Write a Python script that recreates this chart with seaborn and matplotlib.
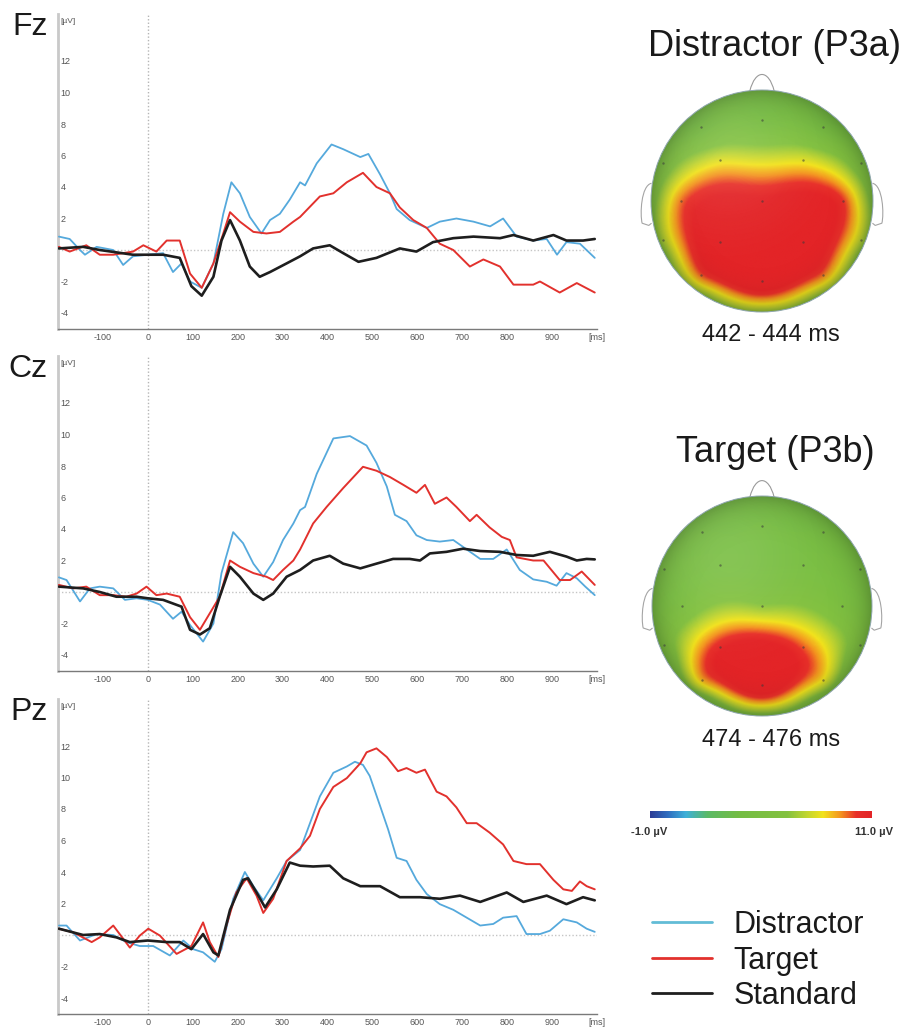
import numpy as np
import pandas as pd
import matplotlib
matplotlib.use("Agg")
import matplotlib.pyplot as plt
import seaborn as sns
from matplotlib.colors import LinearSegmentedColormap
from matplotlib.lines import Line2D
from matplotlib.patches import Circle, PathPatch
from matplotlib.path import Path

# ---------------- data ----------------
CONDITIONS = ["Distractor", "Target", "Standard"]
COND_COLORS = ["#55a9dc", "#e2312d", "#1e1e1e"]

FZ_DIS_T = [-198,-174,-151,-140,-114,-77,-55,-33,0,34,56,75,94,120,146,168,186,205,227,253,272,294,316,339,350,376,409,435,473,491,517,539,554,583,621,650,687,725,762,791,821,858,888,911,932,962,995]
FZ_DIS_V = [0.85,0.7,0,-0.3,0.2,0,-0.95,-0.4,-0.3,-0.2,-1.4,-0.85,-2.0,-2.4,-0.85,2.3,4.3,3.6,2.1,1.05,1.9,2.3,3.2,4.3,4.1,5.5,6.7,6.4,5.9,6.1,4.8,3.6,2.6,1.9,1.4,1.8,2.0,1.8,1.5,2.0,0.85,0.6,0.7,-0.3,0.5,0.4,-0.5]
FZ_TAR_T = [-198,-174,-137,-107,-77,-33,-10,19,42,71,94,120,146,168,183,205,235,264,294,324,339,383,413,443,479,509,539,561,591,621,650,680,717,747,784,814,858,873,917,955,995]
FZ_TAR_V = [0.2,-0.1,0.3,-0.3,-0.3,-0.1,0.3,-0.1,0.6,0.6,-1.5,-2.4,-0.85,1.05,2.4,1.8,1.15,1.05,1.15,1.8,2.1,3.4,3.6,4.3,4.9,4.0,3.6,2.7,1.9,1.4,0.4,0,-1.05,-0.6,-1.05,-2.2,-2.2,-2.0,-2.7,-2.1,-2.7]
FZ_STD_T = [-198,-144,-107,-33,0,34,71,97,120,146,164,183,205,227,249,272,309,339,368,405,435,469,509,561,598,635,680,725,784,814,858,903,932,969,995]
FZ_STD_V = [0.1,0.2,0,-0.3,-0.3,-0.3,-0.5,-2.3,-2.9,-1.7,0.6,1.9,0.6,-1.05,-1.7,-1.4,-0.85,-0.4,0.1,0.3,-0.2,-0.75,-0.5,0.1,-0.1,0.5,0.75,0.85,0.75,0.95,0.6,0.95,0.6,0.6,0.7]

CZ_DIS_T = [-198,-181,-151,-129,-107,-77,-51,-25,0,27,56,75,94,123,146,164,190,212,235,257,279,301,324,339,350,376,413,450,487,509,532,550,576,598,621,650,680,710,740,769,799,828,858,888,910,932,955,974,995]
CZ_DIS_V = [0.93,0.76,-0.6,0.23,0.34,0.23,-0.5,-0.4,-0.5,-0.8,-1.7,-1.25,-2.1,-3.15,-2.0,1.2,3.8,3.1,1.8,0.97,1.9,3.3,4.35,5.2,5.4,7.5,9.75,9.9,9.3,8.2,6.7,4.9,4.5,3.6,3.3,3.2,3.3,2.7,2.1,2.1,2.7,1.4,0.8,0.65,0.4,1.2,0.87,0.34,-0.2]
CZ_TAR_T = [-198,-166,-137,-107,-77,-48,-25,-3,19,42,71,94,116,138,160,183,205,235,264,279,301,324,339,368,398,435,479,509,539,569,598,617,639,665,687,717,732,761,788,806,821,858,881,917,940,966,995]
CZ_TAR_V = [0.45,0.23,0.34,-0.2,-0.2,-0.3,-0.1,0.34,-0.2,-0.1,-0.3,-1.6,-2.4,-1.35,-0.3,2.0,1.6,1.2,0.97,0.76,1.4,2.0,2.7,4.35,5.4,6.6,7.95,7.7,7.3,6.8,6.3,6.8,5.6,6.0,5.4,4.5,4.9,4.1,3.5,3.3,2.2,2.0,2.0,0.76,0.76,1.3,0.45]
CZ_STD_T = [-198,-144,-107,-70,-25,0,34,75,94,116,138,160,183,205,235,257,279,309,339,368,405,435,473,509,546,583,606,628,665,702,740,784,821,858,895,932,955,977,995]
CZ_STD_V = [0.34,0.23,0,-0.3,-0.3,-0.4,-0.5,-0.93,-2.4,-2.7,-2.3,-0.3,1.6,0.97,-0.1,-0.5,-0.1,0.97,1.4,2.0,2.3,1.8,1.5,1.8,2.1,2.1,2.0,2.45,2.55,2.75,2.6,2.55,2.35,2.3,2.55,2.25,2.0,2.1,2.07]

PZ_DIS_T = [-198,-181,-151,-114,-77,-48,-18,12,49,79,101,123,149,164,190,216,235,257,287,309,339,361,383,413,443,461,479,494,517,535,554,576,598,621,650,680,710,740,769,791,821,843,873,895,925,955,977,995]
PZ_DIS_V = [0.6,0.6,-0.35,0.06,0,-0.45,-0.7,-0.7,-1.3,-0.35,-0.9,-1.1,-1.7,-0.9,2.3,4.0,3.1,2.2,3.6,4.7,5.4,7.1,8.8,10.3,10.7,11.0,10.8,10.1,8.2,6.7,4.9,4.7,3.5,2.6,1.96,1.6,1.1,0.6,0.7,1.1,1.2,0.06,0.06,0.27,1.0,0.8,0.4,0.2]
PZ_TAR_T = [-198,-166,-125,-107,-77,-40,-18,1,27,64,97,123,138,157,175,197,220,242,257,279,309,339,361,383,413,443,473,487,509,532,557,576,598,617,643,665,687,710,732,761,791,814,843,873,903,925,944,962,977,995]
PZ_TAR_V = [0.4,0.17,-0.45,-0.15,0.6,-0.8,-0.04,0.4,-0.04,-1.2,-0.7,0.8,-0.45,-1.4,0.6,2.7,3.6,2.5,1.4,2.3,4.7,5.5,6.3,8.0,9.4,9.96,10.9,11.6,11.85,11.3,10.4,10.6,10.3,10.5,9.1,8.8,8.1,7.1,7.1,6.5,5.75,4.7,4.5,4.5,3.5,2.9,2.8,3.4,3.1,2.9]
PZ_STD_T = [-198,-144,-107,-70,-40,0,42,71,97,123,146,157,183,212,223,242,261,287,316,339,368,405,435,473,517,561,606,650,695,740,799,836,888,932,969,995]
PZ_STD_V = [0.4,0,0.06,-0.15,-0.45,-0.35,-0.45,-0.45,-0.9,0.06,-1.1,-1.3,1.6,3.5,3.6,2.7,1.75,2.9,4.6,4.4,4.35,4.4,3.6,3.1,3.1,2.4,2.4,2.3,2.5,2.1,2.7,2.1,2.5,1.96,2.4,2.2]

CHANNELS = ["Fz", "Cz", "Pz"]
XTICKS = [-100, 0, 100, 200, 300, 400, 500, 600, 700, 800, 900, 1000]
XTICK_LABELS = ["-100", "0", "100", "200", "300", "400", "500", "600", "700", "800", "900", "[ms]"]
YTICKS = [-4, -2, 2, 4, 6, 8, 10, 12]
YTICK_LABELS = ["-4", "-2", "2", "4", "6", "8", "10", "12"]

# topographic maps: electrode readings (x, y on unit head) and µV values
ELEC_X = [-0.55, 0.0, 0.55, -0.89, -0.38, 0.37, 0.89, -0.73, 0.0, 0.73, -0.89, -0.38, 0.37, 0.89, -0.55, 0.0, 0.55]
ELEC_Y = [0.67, 0.73, 0.67, 0.34, 0.37, 0.37, 0.34, 0.0, 0.0, 0.0, -0.35, -0.37, -0.37, -0.35, -0.67, -0.72, -0.67]
DIS_ELEC_V = [4.5, 4.6, 4.5, 5.4, 8.0, 8.0, 5.4, 9.6, 11.2, 10.2, 7.2, 12.5, 12.5, 7.4, 9.8, 12.5, 9.6]
TAR_ELEC_V = [4.5, 4.5, 4.5, 4.7, 4.8, 4.8, 4.7, 5.3, 6.6, 5.3, 5.6, 10.6, 9.8, 5.6, 9.0, 12.5, 8.4]
RIM_ANGLES = [90, 60, 30, 0, -30, -60, -90, -120, -150, 180, 150, 120]
DIS_RIM_V = [4.4, 4.4, 4.8, 6.0, 6.4, 6.6, 6.8, 6.6, 6.4, 5.8, 4.8, 4.4]
TAR_RIM_V = [4.4, 4.4, 4.5, 4.8, 5.0, 5.4, 6.0, 5.4, 5.0, 4.8, 4.5, 4.4]
TOPO_TITLES = ["Distractor (P3a)", "Target (P3b)"]
TOPO_TIMES = ["442 - 444 ms", "474 - 476 ms"]
CBAR_MIN, CBAR_MAX = -1.0, 11.0
CBAR_LABELS = ["-1.0 µV", "11.0 µV"]

# ---------------- figure ----------------
sns.set_style("white")
plt.rcParams["font.family"] = ["Liberation Sans", "DejaVu Sans"]

W, H = 911, 1030
fig = plt.figure(figsize=(W / 100, H / 100), dpi=100)


def fx(px):
    return px / W


def fy(py):
    return 1 - py / H


series = {
    "Fz": [(FZ_DIS_T, FZ_DIS_V), (FZ_TAR_T, FZ_TAR_V), (FZ_STD_T, FZ_STD_V)],
    "Cz": [(CZ_DIS_T, CZ_DIS_V), (CZ_TAR_T, CZ_TAR_V), (CZ_STD_T, CZ_STD_V)],
    "Pz": [(PZ_DIS_T, PZ_DIS_V), (PZ_TAR_T, PZ_TAR_V), (PZ_STD_T, PZ_STD_V)],
}
zero_px = [250, 592, 935]
lws = [1.3, 1.4, 1.9]
px_per_uv = 15.75

for ch, y0 in zip(CHANNELS, zero_px):
    ax = fig.add_axes([fx(58), fy(y0 + 5 * px_per_uv), 539 / W, 20 * px_per_uv / H])
    ax.axvline(0, color="#b5b5b5", ls=(0, (1, 1.5)), lw=1.0, zorder=1)
    ax.axhline(0, color="#c5c5c5", ls=(0, (1, 1.5)), lw=1.0, zorder=1)
    for (t, v), cond, col, lw in zip(series[ch], CONDITIONS, COND_COLORS, lws):
        df = pd.DataFrame({"time": t, "uV": v})
        sns.lineplot(data=df, x="time", y="uV", ax=ax, color=col, linewidth=lw,
                     estimator=None, sort=False, legend=False, zorder=3)
    ax.set_xlim(-200, 1000)
    ax.set_ylim(-5, 15)
    ax.set_xlabel("")
    ax.set_ylabel("")
    ax.set_xticks(XTICKS)
    ax.set_xticklabels(XTICK_LABELS)
    ax.set_yticks(YTICKS)
    ax.set_yticklabels(YTICK_LABELS)
    ax.tick_params(axis="x", direction="in", length=2.5, width=0.8, color="#888888",
                   labelsize=6.5, labelcolor="#555555", pad=3)
    ax.tick_params(axis="y", direction="in", length=0, labelsize=6.5,
                   labelcolor="#555555", pad=-2)
    for lbl in ax.get_yticklabels():
        lbl.set_horizontalalignment("left")
    for s in ["top", "right"]:
        ax.spines[s].set_visible(False)
    ax.spines["left"].set_color("#c9c9c9")
    ax.spines["left"].set_linewidth(2.0)
    ax.spines["bottom"].set_color("#7a7a7a")
    ax.spines["bottom"].set_linewidth(1.0)
    ax.set_facecolor("none")
    ax.text(0.004, 14.5, "[µV]", transform=ax.get_yaxis_transform(), fontsize=6,
            color="#555555", ha="left", va="center")
    ax.text(-0.019, 14.15, ch, transform=ax.get_yaxis_transform(), fontsize=23,
            color="#1a1a1a", ha="right", va="center")

# ---------------- topographic maps ----------------
cmap = LinearSegmentedColormap.from_list("bv", [
    (0.00, "#2b3d96"), (0.08, "#2f6ec0"), (0.16, "#3eb0d9"), (0.26, "#5cba66"),
    (0.40, "#74bd44"), (0.62, "#84c240"), (0.71, "#c3d630"), (0.78, "#f2e31c"),
    (0.86, "#f49420"), (0.93, "#e8302a"), (1.00, "#e32427")])


def tps(xy, v, gx, gy):
    n = len(v)
    d = np.sqrt(((xy[:, None, :] - xy[None, :, :]) ** 2).sum(-1))
    K = np.where(d > 0, d ** 2 * np.log(np.maximum(d, 1e-12)), 0.0)
    P = np.hstack([np.ones((n, 1)), xy])
    A = np.zeros((n + 3, n + 3))
    A[:n, :n] = K + np.eye(n) * 1e-3
    A[:n, n:] = P
    A[n:, :n] = P.T
    b = np.concatenate([v, np.zeros(3)])
    sol = np.linalg.solve(A, b)
    w, a = sol[:n], sol[n:]
    g = np.stack([gx.ravel(), gy.ravel()], 1)
    dg = np.sqrt(((g[:, None, :] - xy[None, :, :]) ** 2).sum(-1))
    Kg = np.where(dg > 0, dg ** 2 * np.log(np.maximum(dg, 1e-12)), 0.0)
    z = Kg @ w + a[0] + a[1] * g[:, 0] + a[2] * g[:, 1]
    return z.reshape(gx.shape)


def draw_head(cx, cy, r, elec_v, rim_v, title, tlabel):
    half = 1.25 * r
    ax = fig.add_axes([fx(cx - half), fy(cy + half), 2 * half / W, 2 * half / H])
    ax.set_xlim(-1.25, 1.25)
    ax.set_ylim(-1.25, 1.25)
    ax.axis("off")
    ang = np.deg2rad(RIM_ANGLES)
    px_ = np.concatenate([ELEC_X, np.cos(ang)])
    py_ = np.concatenate([ELEC_Y, np.sin(ang)])
    vv = np.concatenate([elec_v, rim_v])
    g = np.linspace(-1, 1, 321)
    gx, gy = np.meshgrid(g, g)
    z = tps(np.stack([px_, py_], 1), vv, gx, gy)
    rr = np.sqrt(gx ** 2 + gy ** 2)
    z = np.clip(z, CBAR_MIN, CBAR_MAX)
    clip = Circle((0, 0), 1.0, transform=ax.transData)
    im = ax.imshow(z, extent=(-1, 1, -1, 1), origin="lower", cmap=cmap,
                   vmin=CBAR_MIN, vmax=CBAR_MAX, interpolation="bilinear", zorder=1)
    im.set_clip_path(clip)
    # soft shading for the rounded look
    shade = np.zeros(gx.shape + (4,))
    shade[..., 3] = 0.22 * np.clip(rr, 0, 1) ** 8
    s1 = ax.imshow(shade, extent=(-1, 1, -1, 1), origin="lower", zorder=2)
    s1.set_clip_path(clip)
    hl = np.ones(gx.shape + (4,))
    hl[..., 3] = 0.10 * np.exp(-((gx + 0.3) ** 2 + (gy - 0.45) ** 2) / 0.35)
    s2 = ax.imshow(hl, extent=(-1, 1, -1, 1), origin="lower", zorder=2)
    s2.set_clip_path(clip)
    ax.add_patch(Circle((0, 0), 1.0, fill=False, ec="#8fa6b0", lw=0.7, zorder=3))
    ax.scatter(ELEC_X, ELEC_Y, s=3, color="#3a3a3a", alpha=0.55, lw=0, zorder=4)
    nose = Path([(-0.11, 0.99), (-0.06, 1.19), (0.06, 1.19), (0.11, 0.99)],
                [Path.MOVETO, Path.CURVE4, Path.CURVE4, Path.CURVE4])
    ax.add_patch(PathPatch(nose, fill=False, ec="#9a9a9a", lw=0.8, zorder=0))
    for sgn in (1, -1):
        ear = Path([(sgn * 0.995, 0.16), (sgn * 1.09, 0.14), (sgn * 1.10, -0.12),
                    (sgn * 1.08, -0.2), (sgn * 1.02, -0.22), (sgn * 0.995, -0.2)],
                   [Path.MOVETO, Path.CURVE4, Path.CURVE4, Path.CURVE4, Path.LINETO, Path.LINETO])
        ax.add_patch(PathPatch(ear, fill=False, ec="#a5a5a5", lw=0.8, zorder=0))
    fig.text(fx(775), fy(cy - 154), title, fontsize=26, ha="center", va="center",
             color="#1a1a1a")
    fig.text(fx(771), fy(cy + 134), tlabel, fontsize=17, ha="center", va="center",
             color="#1a1a1a")


draw_head(762, 201, 111, DIS_ELEC_V, DIS_RIM_V, TOPO_TITLES[0], TOPO_TIMES[0])
draw_head(762, 606, 110, TAR_ELEC_V, TAR_RIM_V, TOPO_TITLES[1], TOPO_TIMES[1])

# ---------------- colour bar ----------------
cax = fig.add_axes([fx(650), fy(818), 222 / W, 7 / H])
grad = np.linspace(CBAR_MIN, CBAR_MAX, 256)[None, :]
cax.imshow(grad, aspect="auto", cmap=cmap, vmin=CBAR_MIN, vmax=CBAR_MAX,
           extent=(CBAR_MIN, CBAR_MAX, 0, 1))
cax.axis("off")
fig.text(fx(631), fy(832), CBAR_LABELS[0], fontsize=8, fontweight="bold",
         ha="left", va="center", color="#333333")
fig.text(fx(893), fy(832), CBAR_LABELS[1], fontsize=8, fontweight="bold",
         ha="right", va="center", color="#333333")

# ---------------- legend ----------------
handles = [Line2D([0], [0], color=c, lw=2.0) for c in COND_COLORS]
handles[0] = Line2D([0], [0], color="#62bcd6", lw=2.0)
fig.legend(handles, CONDITIONS, loc="upper left", bbox_to_anchor=(fx(652), fy(910)),
           frameon=False, fontsize=22, handlelength=1.95, handletextpad=0.72,
           labelspacing=0.18, borderpad=0, borderaxespad=0,
           labelcolor="#1a1a1a")

fig.savefig("out.png", dpi=100)
